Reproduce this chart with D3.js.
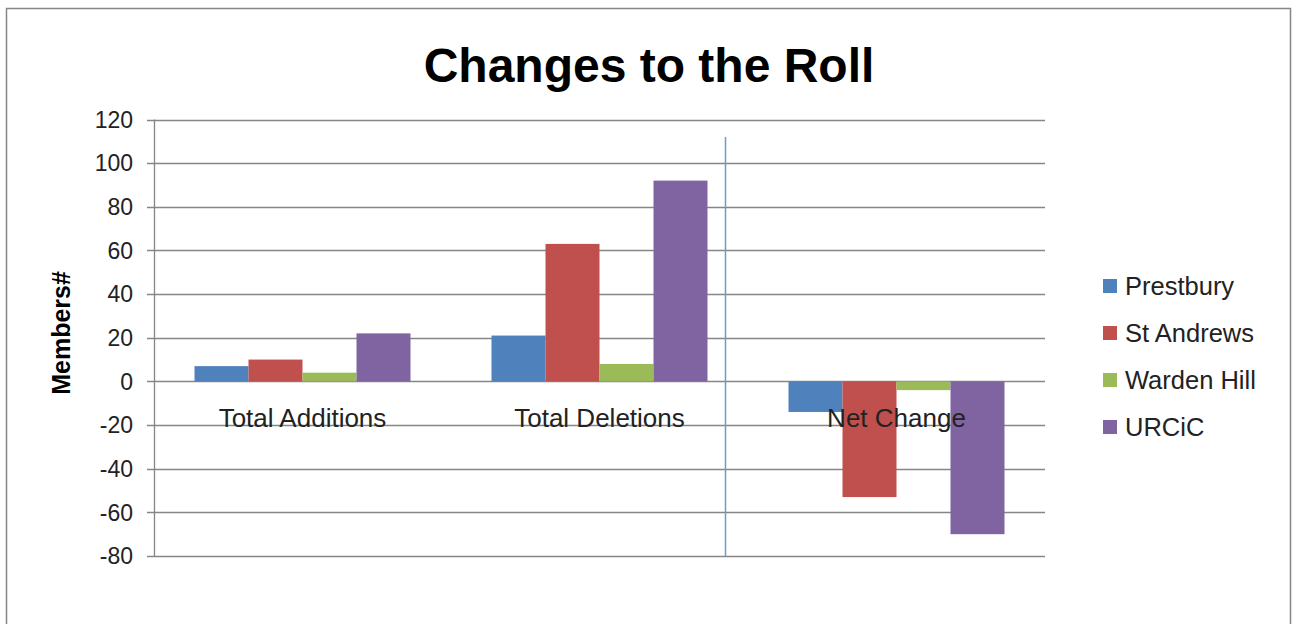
<!DOCTYPE html>
<html>
<head>
<meta charset="utf-8">
<script src="https://cdn.jsdelivr.net/npm/d3@7/dist/d3.min.js"></script>
<style>
  body { margin: 0; background: #fff; }
  text { font-family: "Liberation Sans", Arial, sans-serif; }
</style>
</head>
<body>
<svg id="chart" width="1297" height="624"></svg>
<script>
// data
var categories = ["Total Additions", "Total Deletions", "Net Change"];
var seriesNames = ["Prestbury", "St Andrews", "Warden Hill", "URCiC"];
var prestbury = [7, 21, -14];
var stAndrews = [10, 63, -53];
var wardenHill = [4, 8, -4];
var urcic = [22, 92, -70];
var yTicks = [-80, -60, -40, -20, 0, 20, 40, 60, 80, 100, 120];
var colors = ["#4F81BD", "#C0504D", "#9BBB59", "#8064A2"];

var seriesValues = [prestbury, stAndrews, wardenHill, urcic];

var svg = d3.select("#chart"),
    margin = {left: 154, right: 1045, top: 119.5, bottom: 556};

// chart frame
svg.append("rect")
  .attr("x", 6.5).attr("y", 8.5)
  .attr("width", 1284).attr("height", 640)
  .attr("fill", "#fff").attr("stroke", "#868686").attr("stroke-width", 1.5);

var x = d3.scaleBand().domain(categories).range([margin.left, margin.right]);
var y = d3.scaleLinear().domain([-80, 120]).range([margin.bottom, margin.top]);
// Excel gap width 150%: each bar is band / 5.5
var inner = d3.scaleBand().domain(seriesNames)
    .range([x.bandwidth() * 0.75 / 5.5, x.bandwidth() * 4.75 / 5.5]);

// gridlines
svg.append("g").selectAll("line").data(yTicks).enter().append("line")
  .attr("x1", margin.left - 7).attr("x2", margin.right)
  .attr("y1", function(d) { return Math.round(y(d)) + 0.5; })
  .attr("y2", function(d) { return Math.round(y(d)) + 0.5; })
  .attr("stroke", "#868686").attr("stroke-width", 1.3);

// y axis line
svg.append("line")
  .attr("x1", margin.left + 0.5).attr("x2", margin.left + 0.5)
  .attr("y1", y(120)).attr("y2", y(-80))
  .attr("stroke", "#868686").attr("stroke-width", 1.3);

// tick labels
svg.append("g").selectAll("text").data(yTicks).enter().append("text")
  .attr("x", 133).attr("y", function(d) { return y(d); })
  .attr("dy", "0.36em").attr("text-anchor", "end")
  .attr("font-size", 23).attr("fill", "#222")
  .text(function(d) { return d; });

// bars
seriesValues.forEach(function(vals, i) {
  svg.append("g").selectAll("rect").data(vals).enter().append("rect")
    .attr("x", function(d, j) { return x(categories[j]) + inner(seriesNames[i]); })
    .attr("width", inner.bandwidth())
    .attr("y", function(d) { return y(Math.max(0, d)); })
    .attr("height", function(d) { return Math.abs(y(d) - y(0)); })
    .attr("fill", colors[i]);
});

// blue line shape drawn on the chart
svg.append("line")
  .attr("x1", x("Net Change") - 22.5).attr("x2", x("Net Change") - 22.5)
  .attr("y1", 137).attr("y2", y(-80))
  .attr("stroke", "#6C9BD2").attr("stroke-width", 1.5);

// category labels
svg.append("g").selectAll("text").data(categories).enter().append("text")
  .attr("x", function(d) { return x(d) + x.bandwidth() / 2; })
  .attr("y", y(0) + 46)
  .attr("text-anchor", "middle").attr("font-size", 26).attr("fill", "#222")
  .text(function(d) { return d; });

// title
svg.append("text")
  .attr("x", 649).attr("y", 82)
  .attr("text-anchor", "middle").attr("font-size", 48).attr("font-weight", "bold")
  .text("Changes to the Roll");

// axis title
svg.append("text")
  .attr("transform", "translate(70,333) rotate(-90)")
  .attr("text-anchor", "middle").attr("font-size", 25).attr("font-weight", "bold")
  .text("Members#");

// legend
var legend = svg.append("g").selectAll("g").data(seriesNames).enter().append("g")
  .attr("transform", function(d, i) { return "translate(1103," + (286 + i * 47) + ")"; });
legend.append("rect")
  .attr("x", 0).attr("y", -7).attr("width", 14).attr("height", 14)
  .attr("fill", function(d, i) { return colors[i]; });
legend.append("text")
  .attr("x", 22).attr("y", 0).attr("dy", "0.36em")
  .attr("font-size", 25.5).attr("fill", "#222")
  .text(function(d) { return d; });
</script>
</body>
</html>
